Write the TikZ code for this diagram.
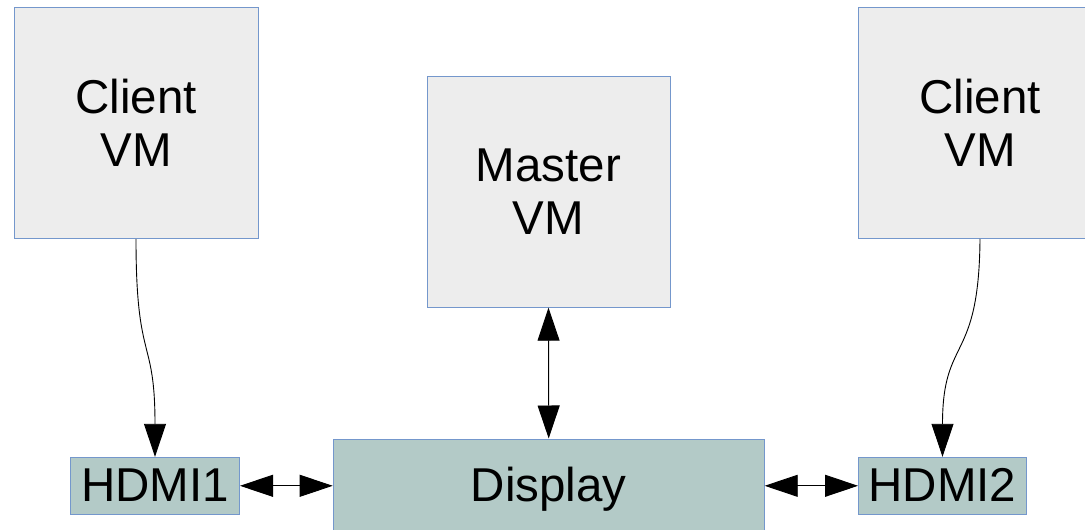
\documentclass[tikz,border=0pt]{standalone}
\usepackage{fontspec}
\setmainfont{Liberation Sans}
\usetikzlibrary{arrows.meta}
\definecolor{vmfill}{HTML}{EDEDED}
\definecolor{hwfill}{HTML}{B3CAC7}
\definecolor{edge}{HTML}{7497CC}
\tikzset{
  vmbox/.style={draw=edge, fill=vmfill, line width=1pt, align=center,
    inner sep=0pt, minimum width=244pt, minimum height=231pt,
    font=\fontsize{47.5}{53}\selectfont},
  hwbox/.style={draw=edge, fill=hwfill, line width=1pt, align=center,
    inner sep=0pt, text depth=0pt, font=\fontsize{47.5}{53}\selectfont},
  link/.style={draw=black, line width=0.9pt,
    >={Triangle[length=33pt,width=22pt]}},
}
\begin{document}
\begin{tikzpicture}[x=1pt,y=-1pt]
\useasboundingbox (0,0) rectangle (1085,530);
\begin{scope}
\clip (0,0) rectangle (1085,530);
% virtual machines
\node[vmbox] (c1) at (136,123) {Client\\VM};
\node[vmbox, minimum width=243pt] (mvm) at (548.5,191.7) {Master\\VM};
\node[vmbox] (c2) at (980,123) {Client\\VM};
% hardware outputs
\node[hwbox, text height=31.8pt, minimum width=169pt, minimum height=57pt] (h1) at (155,485.8) {HDMI1};
\node[hwbox, text height=29.4pt, minimum width=431pt, minimum height=96pt] (disp) at (548.7,487) {Display};
\node[hwbox, text height=31.8pt, minimum width=168pt, minimum height=57pt] (h2) at (942.5,485.8) {HDMI2};
\end{scope}
% client feeds
\draw[link, ->] (c1.south) .. controls (136,365) and (155,335) .. (h1.north);
\draw[link, ->] (c2.south) .. controls (979,365) and (942.5,335) .. (h2.north);
% control and display links
\draw[link, <->] (mvm.south) -- (disp.north);
\draw[link, <->] (h1.east) -- (disp.west |- h1.east);
\draw[link, <->] (disp.east |- h2.west) -- (h2.west);
\end{tikzpicture}
\end{document}
